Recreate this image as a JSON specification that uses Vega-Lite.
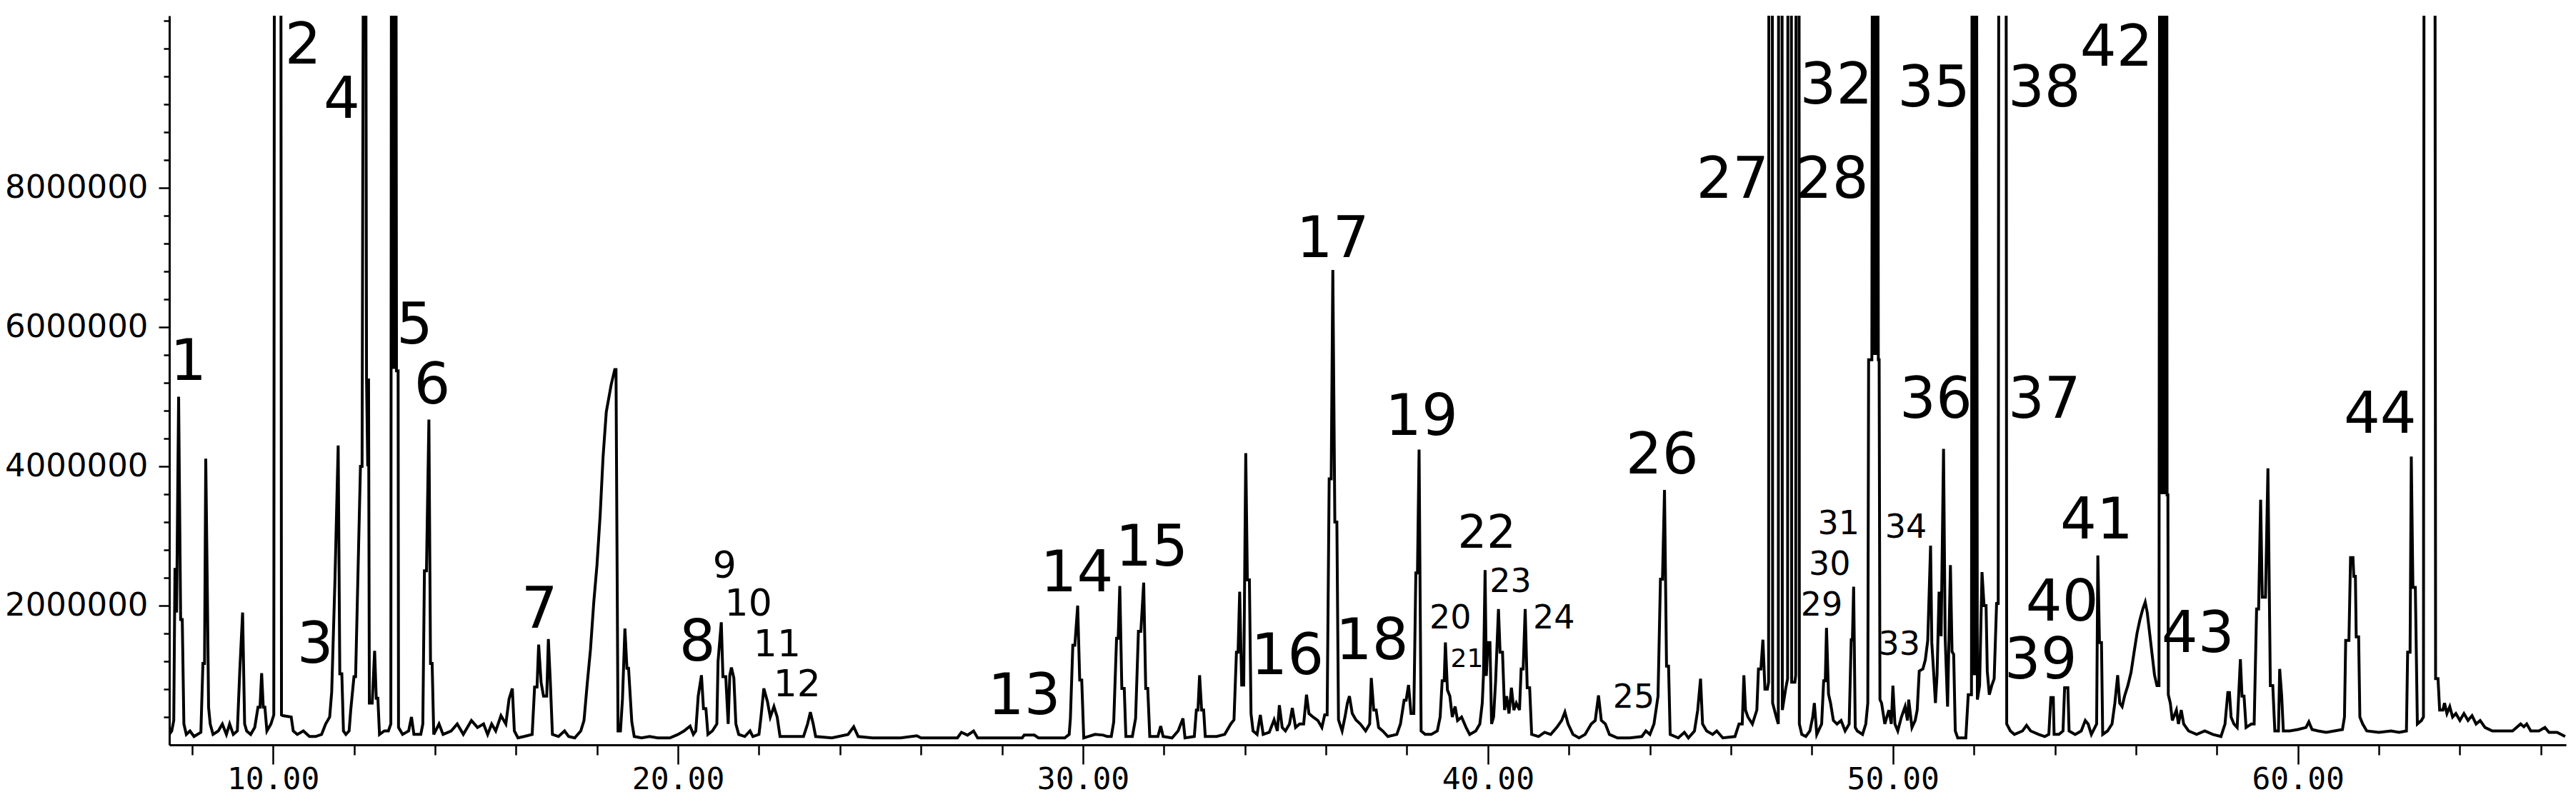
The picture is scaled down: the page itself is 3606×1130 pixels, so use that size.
{
  "$schema": "https://vega.github.io/schema/vega-lite/v6.json",
  "width": 3355,
  "height": 1021,
  "autosize": "none",
  "padding": {"left": 237, "top": 22, "right": 14, "bottom": 87},
  "background": "white",
  "config": {"view": {"stroke": null}, "axis": {"grid": false}},
  "datasets": {
    "trace": [
      {"t":7.44,"v":150000},{"t":7.50,"v":200000},{"t":7.55,"v":350000},{"t":7.58,"v":2540000},{"t":7.62,"v":1900000},{"t":7.67,"v":5000000},{"t":7.72,"v":1800000},{"t":7.76,"v":1800000},{"t":7.80,"v":300000},{"t":7.86,"v":150000},
      {"t":7.95,"v":200000},{"t":8.05,"v":120000},{"t":8.22,"v":180000},{"t":8.27,"v":1170000},{"t":8.31,"v":1170000},{"t":8.34,"v":4110000},{"t":8.38,"v":2170000},{"t":8.41,"v":540000},{"t":8.45,"v":300000},{"t":8.52,"v":150000},
      {"t":8.65,"v":200000},{"t":8.75,"v":300000},{"t":8.85,"v":150000},{"t":8.93,"v":300000},{"t":9.02,"v":150000},{"t":9.12,"v":200000},{"t":9.18,"v":1060000},{"t":9.25,"v":1900000},{"t":9.30,"v":300000},{"t":9.35,"v":200000},
      {"t":9.45,"v":150000},{"t":9.55,"v":250000},{"t":9.63,"v":540000},{"t":9.68,"v":540000},{"t":9.72,"v":1030000},{"t":9.76,"v":540000},{"t":9.80,"v":540000},{"t":9.85,"v":200000},{"t":9.95,"v":300000},
      {"t":10.02,"v":430000},{"t":10.04,"v":16000000},{"t":10.19,"v":16000000},{"t":10.21,"v":430000},{"t":10.24,"v":420000},{"t":10.45,"v":400000},{"t":10.50,"v":200000},{"t":10.60,"v":150000},{"t":10.75,"v":200000},{"t":10.90,"v":120000},
      {"t":11.05,"v":120000},{"t":11.20,"v":150000},{"t":11.30,"v":300000},{"t":11.40,"v":400000},{"t":11.45,"v":760000},{"t":11.53,"v":2360000},{"t":11.61,"v":4300000},{"t":11.65,"v":1020000},{"t":11.70,"v":1020000},{"t":11.74,"v":200000},
      {"t":11.80,"v":150000},{"t":11.88,"v":200000},{"t":11.92,"v":500000},{"t":12.00,"v":980000},{"t":12.04,"v":980000},{"t":12.16,"v":4000000},{"t":12.20,"v":4000000},{"t":12.25,"v":16000000},{"t":12.28,"v":16000000},{"t":12.31,"v":5260000},
      {"t":12.34,"v":4000000},{"t":12.36,"v":5260000},{"t":12.38,"v":600000},{"t":12.45,"v":600000},{"t":12.51,"v":1350000},{"t":12.55,"v":670000},{"t":12.59,"v":670000},{"t":12.63,"v":150000},{"t":12.75,"v":200000},{"t":12.85,"v":200000},
      {"t":12.91,"v":300000},{"t":12.93,"v":16000000},{"t":12.955,"v":5400000},{"t":12.98,"v":16000000},{"t":13.005,"v":5400000},{"t":13.03,"v":16000000},{"t":13.05,"v":5370000},{"t":13.09,"v":5370000},{"t":13.10,"v":250000},
      {"t":13.20,"v":150000},{"t":13.35,"v":200000},{"t":13.42,"v":400000},{"t":13.48,"v":150000},{"t":13.65,"v":150000},{"t":13.70,"v":300000},{"t":13.74,"v":2500000},{"t":13.79,"v":2500000},{"t":13.85,"v":4670000},{"t":13.89,"v":1170000},
      {"t":13.93,"v":1170000},{"t":13.97,"v":150000},{"t":14.10,"v":300000},{"t":14.20,"v":150000},{"t":14.40,"v":200000},{"t":14.55,"v":300000},{"t":14.70,"v":150000},{"t":14.90,"v":350000},{"t":15.05,"v":250000},{"t":15.20,"v":300000},
      {"t":15.30,"v":150000},{"t":15.40,"v":300000},{"t":15.50,"v":200000},{"t":15.63,"v":420000},{"t":15.75,"v":300000},{"t":15.83,"v":660000},{"t":15.91,"v":810000},{"t":15.96,"v":200000},{"t":16.05,"v":100000},{"t":16.20,"v":120000},
      {"t":16.40,"v":150000},{"t":16.46,"v":830000},{"t":16.52,"v":830000},{"t":16.56,"v":1440000},{"t":16.62,"v":900000},{"t":16.68,"v":700000},{"t":16.76,"v":700000},{"t":16.80,"v":1520000},{"t":16.85,"v":880000},{"t":16.90,"v":150000},
      {"t":17.05,"v":120000},{"t":17.20,"v":200000},{"t":17.30,"v":120000},{"t":17.45,"v":100000},{"t":17.60,"v":200000},{"t":17.68,"v":350000},{"t":17.76,"v":880000},{"t":17.84,"v":1370000},{"t":17.92,"v":2040000},{"t":18.00,"v":2580000},
      {"t":18.08,"v":3310000},{"t":18.15,"v":4130000},{"t":18.23,"v":4780000},{"t":18.35,"v":5170000},{"t":18.44,"v":5390000},{"t":18.47,"v":5390000},{"t":18.52,"v":200000},{"t":18.58,"v":200000},{"t":18.63,"v":660000},{"t":18.69,"v":1670000},
      {"t":18.74,"v":1100000},{"t":18.78,"v":1100000},{"t":18.86,"v":330000},{"t":18.92,"v":120000},{"t":19.10,"v":100000},{"t":19.30,"v":120000},{"t":19.50,"v":100000},{"t":19.80,"v":100000},{"t":20.00,"v":150000},{"t":20.15,"v":200000},
      {"t":20.30,"v":270000},{"t":20.38,"v":150000},{"t":20.44,"v":200000},{"t":20.50,"v":700000},{"t":20.58,"v":1000000},{"t":20.63,"v":520000},{"t":20.69,"v":520000},{"t":20.74,"v":150000},{"t":20.85,"v":200000},{"t":20.96,"v":300000},
      {"t":20.99,"v":1200000},{"t":21.07,"v":1760000},{"t":21.11,"v":980000},{"t":21.18,"v":980000},{"t":21.24,"v":300000},{"t":21.28,"v":1000000},{"t":21.32,"v":1110000},{"t":21.38,"v":960000},{"t":21.43,"v":300000},{"t":21.50,"v":150000},
      {"t":21.65,"v":120000},{"t":21.78,"v":200000},{"t":21.85,"v":120000},{"t":22.00,"v":150000},{"t":22.05,"v":400000},{"t":22.12,"v":810000},{"t":22.21,"v":620000},{"t":22.28,"v":400000},{"t":22.37,"v":550000},{"t":22.45,"v":400000},
      {"t":22.52,"v":120000},{"t":23.10,"v":120000},{"t":23.20,"v":300000},{"t":23.27,"v":470000},{"t":23.34,"v":300000},{"t":23.40,"v":120000},{"t":23.80,"v":100000},{"t":24.20,"v":150000},{"t":24.34,"v":260000},{"t":24.45,"v":120000},
      {"t":24.80,"v":100000},{"t":25.50,"v":100000},{"t":25.90,"v":130000},{"t":26.00,"v":100000},{"t":26.90,"v":100000},{"t":27.00,"v":180000},{"t":27.15,"v":140000},{"t":27.30,"v":200000},{"t":27.40,"v":100000},{"t":28.50,"v":100000},
      {"t":28.55,"v":140000},{"t":28.80,"v":140000},{"t":28.90,"v":100000},{"t":29.55,"v":100000},{"t":29.66,"v":150000},{"t":29.69,"v":380000},{"t":29.75,"v":1430000},{"t":29.80,"v":1430000},{"t":29.87,"v":2000000},{"t":29.92,"v":930000},
      {"t":29.97,"v":930000},{"t":30.02,"v":100000},{"t":30.30,"v":150000},{"t":30.50,"v":140000},{"t":30.60,"v":120000},{"t":30.70,"v":120000},{"t":30.76,"v":330000},{"t":30.83,"v":1530000},{"t":30.87,"v":1530000},{"t":30.91,"v":2280000},
      {"t":30.96,"v":810000},{"t":31.02,"v":810000},{"t":31.06,"v":120000},{"t":31.22,"v":120000},{"t":31.30,"v":380000},{"t":31.37,"v":1630000},{"t":31.43,"v":1630000},{"t":31.50,"v":2330000},{"t":31.55,"v":810000},{"t":31.60,"v":810000},
      {"t":31.65,"v":120000},{"t":31.85,"v":120000},{"t":31.92,"v":270000},{"t":31.98,"v":120000},{"t":32.20,"v":100000},{"t":32.35,"v":200000},{"t":32.47,"v":380000},{"t":32.52,"v":100000},{"t":32.75,"v":120000},{"t":32.80,"v":500000},
      {"t":32.84,"v":500000},{"t":32.88,"v":1000000},{"t":32.93,"v":500000},{"t":32.98,"v":500000},{"t":33.02,"v":120000},{"t":33.30,"v":120000},{"t":33.50,"v":150000},{"t":33.65,"v":300000},{"t":33.73,"v":360000},{"t":33.79,"v":1330000},
      {"t":33.83,"v":1330000},{"t":33.87,"v":2200000},{"t":33.92,"v":860000},{"t":33.97,"v":860000},{"t":34.02,"v":4190000},{"t":34.06,"v":2370000},{"t":34.11,"v":2370000},{"t":34.15,"v":450000},{"t":34.20,"v":200000},{"t":34.30,"v":150000},
      {"t":34.38,"v":430000},{"t":34.45,"v":150000},{"t":34.60,"v":180000},{"t":34.72,"v":360000},{"t":34.80,"v":200000},{"t":34.85,"v":570000},{"t":34.92,"v":250000},{"t":35.00,"v":200000},{"t":35.10,"v":300000},{"t":35.17,"v":530000},
      {"t":35.25,"v":250000},{"t":35.35,"v":300000},{"t":35.45,"v":300000},{"t":35.52,"v":720000},{"t":35.58,"v":450000},{"t":35.68,"v":400000},{"t":35.80,"v":350000},{"t":35.90,"v":250000},{"t":35.97,"v":430000},{"t":36.03,"v":430000},
      {"t":36.08,"v":3820000},{"t":36.13,"v":3820000},{"t":36.17,"v":6820000},{"t":36.22,"v":3200000},{"t":36.27,"v":3200000},{"t":36.31,"v":360000},{"t":36.40,"v":200000},{"t":36.47,"v":400000},{"t":36.53,"v":600000},{"t":36.58,"v":700000},
      {"t":36.65,"v":450000},{"t":36.74,"v":360000},{"t":36.85,"v":300000},{"t":36.98,"v":200000},{"t":37.08,"v":300000},{"t":37.12,"v":960000},{"t":37.18,"v":500000},{"t":37.24,"v":500000},{"t":37.30,"v":250000},{"t":37.40,"v":200000},
      {"t":37.53,"v":120000},{"t":37.75,"v":150000},{"t":37.84,"v":300000},{"t":37.93,"v":640000},{"t":37.98,"v":640000},{"t":38.04,"v":860000},{"t":38.10,"v":450000},{"t":38.17,"v":450000},{"t":38.22,"v":2470000},{"t":38.26,"v":2470000},
      {"t":38.30,"v":4240000},{"t":38.35,"v":200000},{"t":38.45,"v":150000},{"t":38.60,"v":150000},{"t":38.75,"v":200000},{"t":38.82,"v":400000},{"t":38.87,"v":920000},{"t":38.92,"v":920000},{"t":38.95,"v":1470000},{"t":39.00,"v":790000},
      {"t":39.06,"v":700000},{"t":39.12,"v":400000},{"t":39.19,"v":550000},{"t":39.25,"v":350000},{"t":39.35,"v":400000},{"t":39.46,"v":250000},{"t":39.55,"v":150000},{"t":39.70,"v":200000},{"t":39.80,"v":300000},{"t":39.86,"v":600000},
      {"t":39.89,"v":1000000},{"t":39.93,"v":2510000},{"t":39.96,"v":990000},{"t":40.00,"v":1470000},{"t":40.05,"v":1470000},{"t":40.09,"v":300000},{"t":40.14,"v":400000},{"t":40.19,"v":920000},{"t":40.26,"v":1950000},{"t":40.30,"v":1330000},
      {"t":40.36,"v":1330000},{"t":40.41,"v":500000},{"t":40.46,"v":700000},{"t":40.52,"v":450000},{"t":40.58,"v":820000},{"t":40.64,"v":500000},{"t":40.70,"v":600000},{"t":40.78,"v":500000},{"t":40.82,"v":1090000},{"t":40.87,"v":1090000},
      {"t":40.92,"v":1950000},{"t":40.97,"v":820000},{"t":41.03,"v":820000},{"t":41.08,"v":150000},{"t":41.25,"v":120000},{"t":41.40,"v":180000},{"t":41.55,"v":150000},{"t":41.70,"v":250000},{"t":41.82,"v":350000},{"t":41.90,"v":470000},
      {"t":41.98,"v":300000},{"t":42.10,"v":150000},{"t":42.25,"v":100000},{"t":42.40,"v":150000},{"t":42.55,"v":300000},{"t":42.65,"v":350000},{"t":42.73,"v":710000},{"t":42.80,"v":350000},{"t":42.90,"v":300000},{"t":43.00,"v":150000},
      {"t":43.20,"v":100000},{"t":43.50,"v":100000},{"t":43.80,"v":120000},{"t":43.90,"v":200000},{"t":44.00,"v":150000},{"t":44.10,"v":300000},{"t":44.20,"v":700000},{"t":44.26,"v":2380000},{"t":44.31,"v":2380000},{"t":44.36,"v":3660000},
      {"t":44.41,"v":1130000},{"t":44.46,"v":1130000},{"t":44.50,"v":150000},{"t":44.70,"v":100000},{"t":44.85,"v":180000},{"t":44.95,"v":100000},{"t":45.10,"v":200000},{"t":45.18,"v":500000},{"t":45.25,"v":950000},{"t":45.30,"v":300000},
      {"t":45.40,"v":200000},{"t":45.55,"v":150000},{"t":45.65,"v":200000},{"t":45.80,"v":100000},{"t":46.10,"v":120000},{"t":46.20,"v":300000},{"t":46.28,"v":300000},{"t":46.32,"v":1000000},{"t":46.36,"v":500000},{"t":46.42,"v":400000},
      {"t":46.53,"v":300000},{"t":46.64,"v":500000},{"t":46.68,"v":1090000},{"t":46.74,"v":1090000},{"t":46.79,"v":1510000},{"t":46.84,"v":800000},{"t":46.90,"v":800000},{"t":46.93,"v":900000},{"t":46.94,"v":16000000},{"t":47.02,"v":16000000},
      {"t":47.03,"v":600000},{"t":47.12,"v":400000},{"t":47.17,"v":300000},{"t":47.18,"v":16000000},{"t":47.26,"v":16000000},{"t":47.27,"v":500000},{"t":47.35,"v":800000},{"t":47.40,"v":950000},{"t":47.41,"v":16000000},{"t":47.49,"v":16000000},
      {"t":47.50,"v":900000},{"t":47.58,"v":900000},{"t":47.60,"v":1000000},{"t":47.61,"v":16000000},{"t":47.68,"v":16000000},{"t":47.69,"v":300000},{"t":47.75,"v":150000},{"t":47.85,"v":120000},{"t":47.95,"v":200000},{"t":48.02,"v":400000},
      {"t":48.06,"v":600000},{"t":48.12,"v":150000},{"t":48.24,"v":300000},{"t":48.29,"v":920000},{"t":48.33,"v":920000},{"t":48.36,"v":1680000},{"t":48.41,"v":730000},{"t":48.46,"v":600000},{"t":48.53,"v":350000},{"t":48.62,"v":300000},
      {"t":48.72,"v":350000},{"t":48.82,"v":200000},{"t":48.92,"v":300000},{"t":48.97,"v":1510000},{"t":49.00,"v":1510000},{"t":49.03,"v":2270000},{"t":49.07,"v":250000},{"t":49.12,"v":200000},{"t":49.25,"v":150000},{"t":49.33,"v":300000},
      {"t":49.38,"v":600000},{"t":49.40,"v":5530000},{"t":49.48,"v":5530000},{"t":49.50,"v":16000000},{"t":49.53,"v":5600000},{"t":49.56,"v":16000000},{"t":49.59,"v":5600000},{"t":49.62,"v":16000000},{"t":49.64,"v":5530000},{"t":49.66,"v":5530000},
      {"t":49.68,"v":650000},{"t":49.72,"v":600000},{"t":49.80,"v":300000},{"t":49.90,"v":500000},{"t":49.96,"v":300000},{"t":50.00,"v":850000},{"t":50.05,"v":300000},{"t":50.12,"v":200000},{"t":50.21,"v":400000},{"t":50.30,"v":550000},
      {"t":50.36,"v":350000},{"t":50.39,"v":650000},{"t":50.47,"v":250000},{"t":50.55,"v":350000},{"t":50.60,"v":500000},{"t":50.65,"v":1060000},{"t":50.74,"v":1090000},{"t":50.80,"v":1220000},{"t":50.86,"v":1500000},{"t":50.93,"v":2860000},
      {"t":50.96,"v":1470000},{"t":51.01,"v":1000000},{"t":51.05,"v":600000},{"t":51.09,"v":1000000},{"t":51.14,"v":2200000},{"t":51.19,"v":1560000},{"t":51.25,"v":4250000},{"t":51.29,"v":1540000},{"t":51.35,"v":550000},{"t":51.42,"v":2580000},
      {"t":51.46,"v":1340000},{"t":51.50,"v":1300000},{"t":51.54,"v":200000},{"t":51.60,"v":100000},{"t":51.80,"v":100000},{"t":51.86,"v":720000},{"t":51.94,"v":720000},{"t":51.96,"v":16000000},{"t":51.985,"v":1000000},{"t":52.01,"v":16000000},
      {"t":52.035,"v":1000000},{"t":52.06,"v":16000000},{"t":52.085,"v":650000},{"t":52.14,"v":850000},{"t":52.20,"v":2480000},{"t":52.25,"v":2000000},{"t":52.30,"v":2000000},{"t":52.33,"v":1060000},{"t":52.38,"v":720000},{"t":52.44,"v":850000},
      {"t":52.50,"v":950000},{"t":52.56,"v":2030000},{"t":52.60,"v":2030000},{"t":52.62,"v":16000000},{"t":52.79,"v":16000000},{"t":52.81,"v":300000},{"t":52.90,"v":200000},{"t":53.00,"v":150000},{"t":53.20,"v":200000},{"t":53.30,"v":280000},
      {"t":53.40,"v":200000},{"t":53.60,"v":150000},{"t":53.75,"v":120000},{"t":53.85,"v":150000},{"t":53.90,"v":680000},{"t":53.96,"v":680000},{"t":53.98,"v":150000},{"t":54.10,"v":150000},{"t":54.20,"v":200000},{"t":54.24,"v":820000},
      {"t":54.32,"v":820000},{"t":54.35,"v":200000},{"t":54.50,"v":150000},{"t":54.65,"v":200000},{"t":54.75,"v":350000},{"t":54.82,"v":300000},{"t":54.90,"v":150000},{"t":55.03,"v":300000},{"t":55.06,"v":2720000},{"t":55.10,"v":1470000},
      {"t":55.15,"v":1470000},{"t":55.18,"v":150000},{"t":55.30,"v":200000},{"t":55.41,"v":300000},{"t":55.48,"v":600000},{"t":55.55,"v":1000000},{"t":55.60,"v":600000},{"t":55.66,"v":550000},{"t":55.72,"v":700000},{"t":55.80,"v":850000},
      {"t":55.88,"v":1040000},{"t":55.96,"v":1350000},{"t":56.03,"v":1610000},{"t":56.10,"v":1800000},{"t":56.17,"v":1950000},{"t":56.23,"v":2050000},{"t":56.28,"v":1900000},{"t":56.34,"v":1600000},{"t":56.40,"v":1300000},{"t":56.46,"v":1000000},
      {"t":56.52,"v":850000},{"t":56.57,"v":850000},{"t":56.59,"v":16000000},{"t":56.62,"v":3600000},{"t":56.65,"v":16000000},{"t":56.68,"v":3600000},{"t":56.71,"v":16000000},{"t":56.74,"v":3600000},{"t":56.76,"v":16000000},{"t":56.77,"v":3590000},
      {"t":56.79,"v":3590000},{"t":56.80,"v":720000},{"t":56.85,"v":600000},{"t":56.90,"v":350000},{"t":57.00,"v":500000},{"t":57.05,"v":300000},{"t":57.12,"v":500000},{"t":57.18,"v":300000},{"t":57.30,"v":200000},{"t":57.50,"v":150000},
      {"t":57.70,"v":200000},{"t":57.90,"v":150000},{"t":58.10,"v":120000},{"t":58.20,"v":300000},{"t":58.27,"v":750000},{"t":58.31,"v":750000},{"t":58.35,"v":400000},{"t":58.42,"v":300000},{"t":58.50,"v":250000},{"t":58.58,"v":1230000},
      {"t":58.62,"v":700000},{"t":58.67,"v":700000},{"t":58.72,"v":250000},{"t":58.85,"v":300000},{"t":58.92,"v":300000},{"t":58.98,"v":1950000},{"t":59.03,"v":1950000},{"t":59.08,"v":3520000},{"t":59.12,"v":2120000},{"t":59.20,"v":2120000},
      {"t":59.26,"v":3970000},{"t":59.32,"v":850000},{"t":59.38,"v":850000},{"t":59.43,"v":200000},{"t":59.52,"v":200000},{"t":59.55,"v":1090000},{"t":59.60,"v":700000},{"t":59.64,"v":200000},{"t":59.80,"v":200000},{"t":60.00,"v":220000},
      {"t":60.20,"v":250000},{"t":60.27,"v":330000},{"t":60.35,"v":220000},{"t":60.50,"v":200000},{"t":60.70,"v":180000},{"t":60.90,"v":200000},{"t":61.10,"v":220000},{"t":61.15,"v":400000},{"t":61.18,"v":1500000},{"t":61.26,"v":1500000},
      {"t":61.30,"v":2690000},{"t":61.36,"v":2690000},{"t":61.38,"v":2420000},{"t":61.42,"v":2420000},{"t":61.44,"v":1550000},{"t":61.50,"v":1550000},{"t":61.53,"v":400000},{"t":61.60,"v":300000},{"t":61.70,"v":200000},{"t":62.00,"v":180000},
      {"t":62.30,"v":200000},{"t":62.50,"v":180000},{"t":62.68,"v":200000},{"t":62.71,"v":1330000},{"t":62.77,"v":1330000},{"t":62.80,"v":4140000},{"t":62.84,"v":2260000},{"t":62.90,"v":2260000},{"t":62.95,"v":300000},{"t":63.05,"v":350000},
      {"t":63.10,"v":400000},{"t":63.12,"v":16000000},{"t":63.38,"v":16000000},{"t":63.40,"v":950000},{"t":63.46,"v":950000},{"t":63.50,"v":500000},{"t":63.58,"v":500000},{"t":63.62,"v":600000},{"t":63.68,"v":450000},{"t":63.75,"v":550000},
      {"t":63.82,"v":400000},{"t":63.90,"v":450000},{"t":64.00,"v":350000},{"t":64.10,"v":450000},{"t":64.20,"v":350000},{"t":64.30,"v":420000},{"t":64.40,"v":300000},{"t":64.50,"v":350000},{"t":64.62,"v":250000},{"t":64.80,"v":200000},
      {"t":65.00,"v":200000},{"t":65.30,"v":200000},{"t":65.50,"v":300000},{"t":65.58,"v":260000},{"t":65.65,"v":300000},{"t":65.75,"v":200000},{"t":65.95,"v":200000},{"t":66.10,"v":250000},{"t":66.20,"v":180000},{"t":66.40,"v":180000},
      {"t":66.60,"v":120000}
    ],
    "labelsXL": [
      {"label":"1","t":7.91,"v":5490000},{"label":"2","t":10.74,"v":10030000},{"label":"3","t":11.04,"v":1430000},{"label":"4","t":11.70,"v":9250000},
      {"label":"5","t":13.50,"v":6010000},{"label":"6","t":13.93,"v":5150000},{"label":"7","t":16.58,"v":1930000},{"label":"8","t":20.48,"v":1460000},
      {"label":"13","t":28.55,"v":690000},{"label":"14","t":29.85,"v":2450000},{"label":"15","t":31.70,"v":2820000},{"label":"16","t":35.05,"v":1260000},
      {"label":"17","t":36.17,"v":7250000},{"label":"18","t":37.14,"v":1480000},{"label":"19","t":38.36,"v":4700000},{"label":"26","t":44.30,"v":4140000},
      {"label":"27","t":46.04,"v":8100000},{"label":"28","t":48.50,"v":8100000},{"label":"32","t":48.60,"v":9450000},{"label":"35","t":51.01,"v":9410000},
      {"label":"36","t":51.06,"v":4940000},{"label":"37","t":53.74,"v":4940000},{"label":"38","t":53.74,"v":9410000},{"label":"39","t":53.65,"v":1200000},
      {"label":"40","t":54.18,"v":2030000},{"label":"41","t":55.03,"v":3210000},{"label":"42","t":55.52,"v":10000000},{"label":"43","t":57.53,"v":1580000},
      {"label":"44","t":62.03,"v":4730000}
    ],
    "labelsL": [
      {"label":"22","t":39.97,"v":3030000}
    ],
    "labelsM": [
      {"label":"9","t":21.15,"v":2560000},{"label":"10","t":21.74,"v":2020000},{"label":"11","t":22.45,"v":1440000},{"label":"12","t":22.94,"v":860000}
    ],
    "labelsS": [
      {"label":"20","t":39.07,"v":1820000},{"label":"23","t":40.56,"v":2340000},{"label":"24","t":41.63,"v":1820000},{"label":"25","t":43.60,"v":680000},
      {"label":"29","t":48.24,"v":2000000},{"label":"30","t":48.44,"v":2580000},{"label":"31","t":48.66,"v":3170000},{"label":"33","t":50.16,"v":1440000},
      {"label":"34","t":50.32,"v":3120000}
    ],
    "labelsXS": [
      {"label":"21","t":39.48,"v":1230000}
    ]
  },
  "encoding": {
    "x": {
      "field": "t",
      "type": "quantitative",
      "scale": {"domain": [7.44, 66.62], "nice": false, "zero": false},
      "axis": {
        "title": null,
        "values": [8,10,12,14,16,18,20,22,24,26,28,30,32,34,36,38,40,42,44,46,48,50,52,54,56,58,60,62,64,66],
        "format": ".2f",
        "labelExpr": "datum.value % 10 === 0 ? datum.label : ''",
        "labelFont": "DejaVu Sans Mono",
        "labelFontSize": 43,
        "labelColor": "black",
        "labelPadding": 0,
        "labelOverlap": false,
        "labelFlush": false,
        "labelLimit": 0,
        "tickSize": {"condition": {"test": "datum.value % 10 === 0", "value": 27}, "value": 14},
        "tickWidth": 2.5,
        "tickColor": "black",
        "domainColor": "black",
        "domainWidth": 3
      }
    },
    "y": {
      "field": "v",
      "type": "quantitative",
      "scale": {"domain": [0, 10470000], "nice": false},
      "axis": {
        "title": null,
        "values": [400000,800000,1200000,1600000,2000000,2400000,2800000,3200000,3600000,4000000,4400000,4800000,5200000,5600000,6000000,6400000,6800000,7200000,7600000,8000000,8400000,8800000,9200000,9600000,10000000,10400000],
        "format": "d",
        "labelExpr": "datum.value % 2000000 === 0 && datum.value < 9000000 ? datum.label : ''",
        "labelFont": "DejaVu Sans",
        "labelFontSize": 45,
        "labelColor": "black",
        "labelPadding": 15,
        "labelOverlap": false,
        "labelFlush": false,
        "labelLimit": 0,
        "tickSize": {"condition": {"test": "datum.value % 2000000 === 0 && datum.value < 9000000", "value": 15}, "value": 8},
        "tickWidth": 2.5,
        "tickColor": "black",
        "domainColor": "black",
        "domainWidth": 3
      }
    }
  },
  "layer": [
    {
      "data": {"name": "trace"},
      "mark": {"type": "line", "color": "black", "strokeWidth": 4, "clip": true}
    },
    {
      "data": {"name": "labelsXL"},
      "mark": {"type": "text", "font": "DejaVu Sans", "fontSize": 80, "color": "black", "align": "center", "baseline": "middle"},
      "encoding": {"text": {"field": "label"}}
    },
    {
      "data": {"name": "labelsL"},
      "mark": {"type": "text", "font": "DejaVu Sans", "fontSize": 64, "color": "black", "align": "center", "baseline": "middle"},
      "encoding": {"text": {"field": "label"}}
    },
    {
      "data": {"name": "labelsM"},
      "mark": {"type": "text", "font": "DejaVu Sans", "fontSize": 52, "color": "black", "align": "center", "baseline": "middle"},
      "encoding": {"text": {"field": "label"}}
    },
    {
      "data": {"name": "labelsS"},
      "mark": {"type": "text", "font": "DejaVu Sans", "fontSize": 46, "color": "black", "align": "center", "baseline": "middle"},
      "encoding": {"text": {"field": "label"}}
    },
    {
      "data": {"name": "labelsXS"},
      "mark": {"type": "text", "font": "DejaVu Sans", "fontSize": 36, "color": "black", "align": "center", "baseline": "middle"},
      "encoding": {"text": {"field": "label"}}
    }
  ]
}
